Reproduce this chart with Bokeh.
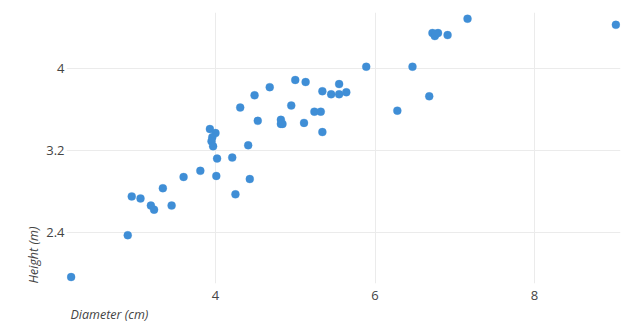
from bokeh.plotting import figure
from bokeh.models import FixedTicker, Range1d, Title
from bokeh.embed import file_html
from bokeh.resources import INLINE

# Data
diameter_cm = [2.19, 2.90, 2.95, 3.06, 3.19, 3.23, 3.34, 3.45, 3.60, 3.81,
               3.93, 4.00, 3.96, 3.95, 3.97, 4.02, 4.01, 4.21, 4.25, 4.41,
               4.43, 4.31, 4.49, 4.53, 4.68, 4.82, 4.82, 4.84, 4.95, 5.00,
               5.13, 5.11, 5.24, 5.32, 5.34, 5.34, 5.45, 5.55, 5.55, 5.64,
               5.89, 6.28, 6.47, 6.68, 6.72, 6.75, 6.79, 6.76, 6.91, 7.16,
               9.02]
height_m = [1.96, 2.37, 2.75, 2.73, 2.66, 2.62, 2.83, 2.66, 2.94, 3.00,
            3.41, 3.37, 3.33, 3.29, 3.24, 3.12, 2.95, 3.13, 2.77, 3.25,
            2.92, 3.62, 3.74, 3.49, 3.82, 3.50, 3.46, 3.46, 3.64, 3.89,
            3.87, 3.47, 3.58, 3.58, 3.78, 3.38, 3.75, 3.75, 3.85, 3.77,
            4.02, 3.59, 4.02, 3.73, 4.35, 4.32, 4.35, 4.34, 4.33, 4.49,
            4.43]

x_ticks = [4, 6, 8]
y_ticks = [2.4, 3.2, 4.0]
y_tick_labels = ["2.4", "3.2", "4"]
x_title = "Diameter (cm)"
y_title = "Height (m)"

FONT = "Open Sans"
TXT = "#444444"

p = figure(width=627, height=324, output_backend="svg", toolbar_location=None,
           x_range=Range1d(2.132, 9.078), y_range=Range1d(1.897, 4.551),
           min_border_left=66, min_border_right=7, min_border_top=12,
           min_border_bottom=41)
p.outline_line_color = None
p.background_fill_color = "white"
p.border_fill_color = "white"

p.scatter(diameter_cm, height_m, size=8, fill_color="#3f8ed6",
          line_color="#3f8ed6", line_width=0.3)

for ax in (p.xaxis[0], p.yaxis[0]):
    ax.axis_line_color = None
    ax.major_tick_line_color = None
    ax.minor_tick_line_color = None
    ax.major_tick_in = 0
    ax.major_tick_out = 0
    ax.minor_tick_in = 0
    ax.minor_tick_out = 0
    ax.major_label_text_font = FONT
    ax.major_label_text_font_size = "13px"
    ax.major_label_text_color = TXT

p.xaxis[0].ticker = FixedTicker(ticks=x_ticks)
p.yaxis[0].ticker = FixedTicker(ticks=y_ticks)
p.yaxis[0].major_label_overrides = {t: s for t, s in zip(y_ticks, y_tick_labels)}
p.xaxis[0].major_label_standoff = 7
p.yaxis[0].major_label_standoff = 2

# axis titles at the start of each axis, as side-panel titles
p.add_layout(Title(text=x_title, align="left", offset=4, standoff=2,
                   text_font=FONT, text_font_size="12.5px",
                   text_font_style="italic", text_color=TXT), "below")
p.add_layout(Title(text=y_title, align="left", offset=0, standoff=3,
                   text_font=FONT, text_font_size="12.5px",
                   text_font_style="italic", text_color=TXT), "left")

p.xgrid.ticker = FixedTicker(ticks=x_ticks)
p.ygrid.ticker = FixedTicker(ticks=y_ticks)
p.grid.grid_line_color = "#ebebeb"
p.grid.grid_line_width = 1

open("out.html", "w").write(file_html(p, INLINE))
